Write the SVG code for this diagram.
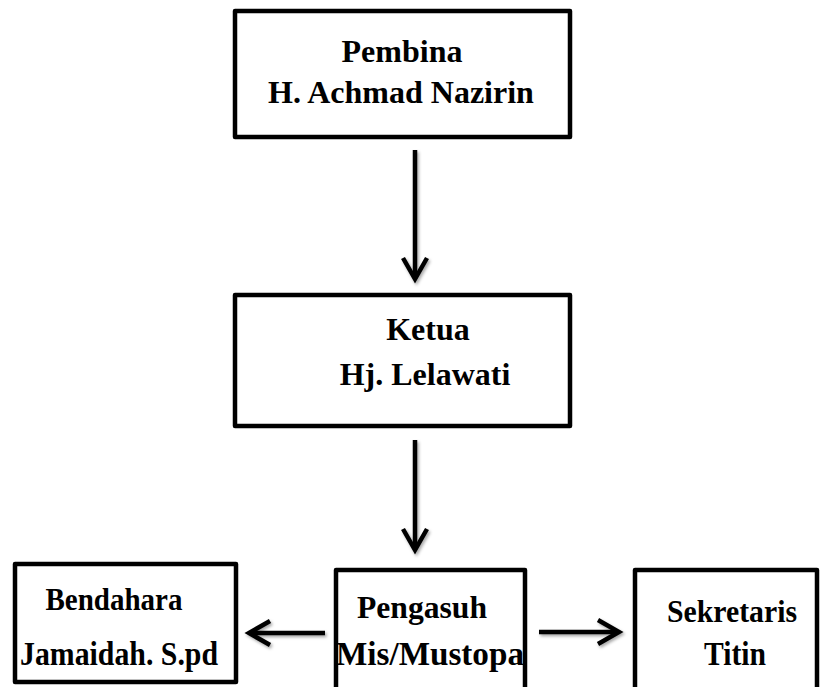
<svg xmlns="http://www.w3.org/2000/svg" width="823" height="687" viewBox="0 0 823 687">
<style>
.box{fill:#fff;stroke:#000;stroke-width:4.5;stroke-linejoin:round}
.t{font-family:"Liberation Serif","Times New Roman",serif;font-weight:bold;fill:#000;text-anchor:middle}
.ln{fill:none;stroke:#000;stroke-width:4.5;stroke-linecap:butt}
.hd{fill:none;stroke:#000;stroke-width:4.5;stroke-linejoin:miter;stroke-linecap:butt}
</style>
<defs>
<filter id="sh" x="-20%" y="-20%" width="140%" height="140%">
<feDropShadow dx="1.5" dy="2" stdDeviation="1.5" flood-color="#000" flood-opacity="0.35"/>
</filter>
</defs>
<rect width="823" height="687" fill="#fff"/>
<g id="pembina">
<rect class="box" x="235" y="11" width="335" height="126"/>
<text class="t" x="402" y="62" font-size="32">Pembina</text>
<text class="t" x="401" y="103" font-size="32">H. Achmad Nazirin</text>
</g>
<g id="ketua">
<rect class="box" x="235" y="295" width="335" height="131"/>
<text class="t" x="428" y="340" font-size="32">Ketua</text>
<text class="t" x="425" y="385" font-size="32">Hj. Lelawati</text>
</g>
<g id="bendahara">
<rect class="box" x="15" y="564" width="221" height="118"/>
<text class="t" x="114" y="610" font-size="31" textLength="137" lengthAdjust="spacingAndGlyphs">Bendahara</text>
<text class="t" x="119" y="665" font-size="34" textLength="198" lengthAdjust="spacingAndGlyphs">Jamaidah. S.pd</text>
</g>
<g id="pengasuh">
<rect class="box" x="336" y="570" width="189" height="140"/>
<text class="t" x="422" y="618" font-size="32" textLength="130" lengthAdjust="spacingAndGlyphs">Pengasuh</text>
<text class="t" x="430" y="665" font-size="34" textLength="188" lengthAdjust="spacingAndGlyphs">Mis/Mustopa</text>
</g>
<g id="sekretaris">
<rect class="box" x="635" y="570" width="182" height="140"/>
<text class="t" x="732" y="622" font-size="31" textLength="130" lengthAdjust="spacingAndGlyphs">Sekretaris</text>
<text class="t" x="735" y="665" font-size="34" textLength="62" lengthAdjust="spacingAndGlyphs">Titin</text>
</g>
<g id="connectors" filter="url(#sh)">
<line class="ln" x1="415" y1="150" x2="415" y2="277"/>
<polyline class="hd" points="403,258 415,279 427,258"/>
<line class="ln" x1="415" y1="440" x2="415" y2="547"/>
<polyline class="hd" points="403,529 415,550 427,529"/>
<line class="ln" x1="325" y1="633" x2="251" y2="633"/>
<polyline class="hd" points="270,621 249,633 270,645"/>
<line class="ln" x1="539" y1="632" x2="616" y2="632"/>
<polyline class="hd" points="598,620 619,632 598,644"/>
</g>
</svg>
